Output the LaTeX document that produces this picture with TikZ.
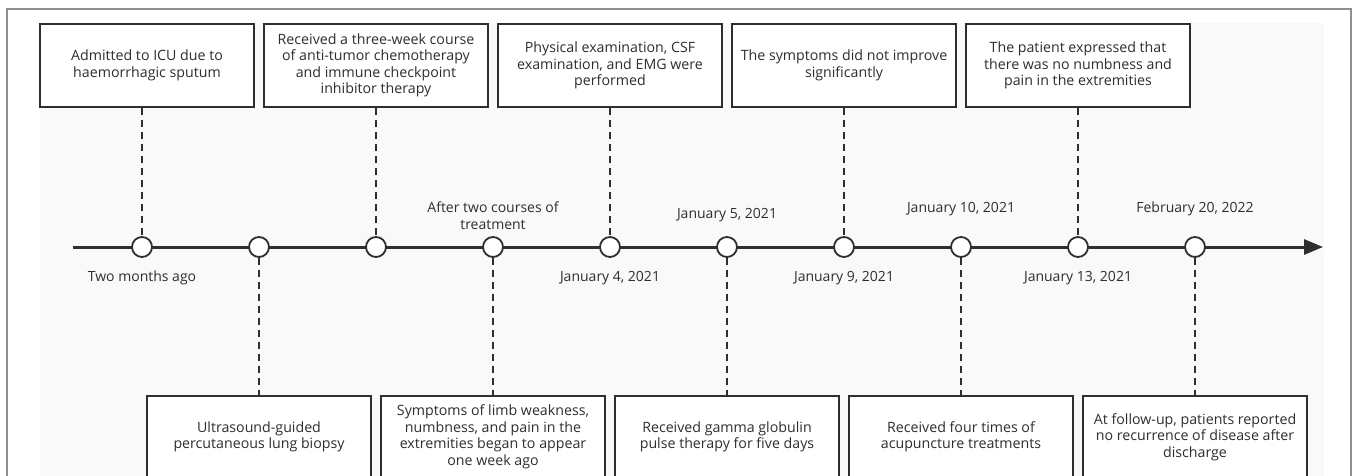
\documentclass[tikz,border=0pt]{standalone}
\usepackage{fontspec}
\setmainfont{Open Sans}
\usetikzlibrary{arrows.meta}
\definecolor{inkgray}{HTML}{2E2E2E}
\definecolor{paneltone}{HTML}{F9F9F9}
\definecolor{framegray}{HTML}{8F8F8F}

\begin{document}
\begin{tikzpicture}[x=1pt,y=-1pt,
    event/.style={draw=inkgray,line width=2pt,fill=white,minimum width=224pt,minimum height=83pt,
        inner sep=2pt,align=center,text=inkgray,font=\fontsize{14.2}{16.5}\selectfont},
    dot/.style={circle,draw=inkgray,line width=1.8pt,fill=white,minimum size=20pt,inner sep=0pt},
    link/.style={draw=inkgray,line width=2pt,dash pattern=on 7pt off 5pt},
    date/.style={align=center,text=inkgray,font=\fontsize{14}{16.5}\selectfont}]
    \useasboundingbox (0,0) rectangle (1357,476);
    \clip (0,0) rectangle (1357,476);
    % frame and grey panel
    \draw[framegray,line width=1.5pt] (7,490) -- (7,9) -- (1351,9) -- (1351,490);
    \fill[paneltone] (40,23) rectangle (1324,490);
    % time axis
    \coordinate (axisstart) at (73,247);
    \coordinate (axisend) at (1323,247);
    \coordinate (toprow) at (0,65.5);
    \coordinate (botrow) at (0,437);
    \coordinate (above) at (0,209);
    \coordinate (abovelow) at (0,215.5);
    \coordinate (below) at (0,278);
    \draw[inkgray,line width=3pt,-{Triangle[length=19pt,width=15pt]}] (axisstart) -- (axisend);
    \foreach \i in {0,...,9}
        \node[dot] (c\i) at (142+117*\i,247) {};

    % events above the axis
    \node[event,minimum width=214pt] (t0) at (147,65.5) {Admitted to ICU due to\\haemorrhagic sputum};
    \node[event] (t1) at (c2 |- toprow) {Received a three-week course\\of anti-tumor chemotherapy\\and immune checkpoint\\inhibitor therapy};
    \node[event] (t2) at (c4 |- toprow) {Physical examination, CSF\\examination, and EMG were\\performed};
    \node[event] (t3) at (c6 |- toprow) {The symptoms did not improve\\significantly};
    \node[event] (t4) at (c8 |- toprow) {The patient expressed that\\there was no numbness and\\pain in the extremities};

    % events below the axis
    \node[event] (b0) at (c1 |- botrow) {Ultrasound-guided\\percutaneous lung biopsy};
    \node[event] (b1) at (c3 |- botrow) {Symptoms of limb weakness,\\numbness, and pain in the\\extremities began to appear\\one week ago};
    \node[event] (b2) at (c5 |- botrow) {Received gamma globulin\\pulse therapy for five days};
    \node[event] (b3) at (c7 |- botrow) {Received four times of\\acupuncture treatments};
    \node[event] (b4) at (c9 |- botrow) {At follow-up, patients reported\\no recurrence of disease after\\discharge};

    % dashed links
    \draw[link] (t0.south -| c0) -- (c0.north);
    \draw[link] (t1.south) -- (c2.north);
    \draw[link] (t2.south) -- (c4.north);
    \draw[link] (t3.south) -- (c6.north);
    \draw[link] (t4.south) -- (c8.north);
    \draw[link] (c1.south) -- (b0.north);
    \draw[link] (c3.south) -- (b1.north);
    \draw[link] (c5.south) -- (b2.north);
    \draw[link] (c7.south) -- (b3.north);
    \draw[link] (c9.south) -- (b4.north);

    % dates
    \node[date] (d0) at (c0 |- below) {Two months ago};
    \node[date] (d3) at (c3 |- abovelow) {After two courses of\\treatment};
    \node[date] (d4) at (c4 |- below) {January 4, 2021};
    \node[date] (d5) at (c5 |- abovelow) {January 5, 2021};
    \node[date] (d6) at (c6 |- below) {January 9, 2021};
    \node[date] (d7) at (c7 |- above) {January 10, 2021};
    \node[date] (d8) at (c8 |- below) {January 13, 2021};
    \node[date] (d9) at (c9 |- above) {February 20, 2022};
\end{tikzpicture}
\end{document}
